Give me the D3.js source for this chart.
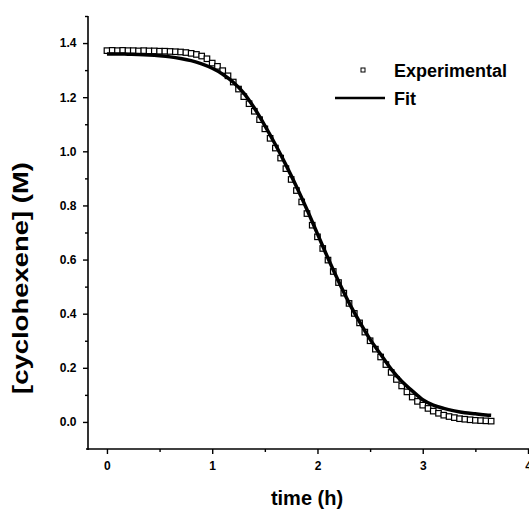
<!DOCTYPE html>
<html>
<head>
<meta charset="utf-8">
<script src="https://cdn.jsdelivr.net/npm/d3@7"></script>
<style>
  body { margin: 0; background: #fff; }
  svg text { font-family: "Liberation Sans", Arial, sans-serif; font-weight: bold; fill: #000; }
</style>
</head>
<body>
<svg></svg>
<script>
// experimental points (time in h, conc in M)
var expTime = [0.00, 0.05, 0.10, 0.15, 0.20, 0.25, 0.30, 0.35, 0.40, 0.45,
               0.50, 0.55, 0.60, 0.65, 0.70, 0.75, 0.80, 0.85, 0.90, 0.95,
               1.00, 1.05, 1.10, 1.15, 1.20, 1.25, 1.30, 1.35, 1.40, 1.45,
               1.50, 1.55, 1.60, 1.65, 1.70, 1.75, 1.80, 1.85, 1.90, 1.95,
               2.00, 2.05, 2.10, 2.15, 2.20, 2.25, 2.30, 2.35, 2.40, 2.45,
               2.50, 2.55, 2.60, 2.65, 2.70, 2.75, 2.80, 2.85, 2.90, 2.95,
               3.00, 3.05, 3.10, 3.15, 3.20, 3.25, 3.30, 3.35, 3.40, 3.45,
               3.50, 3.55, 3.60, 3.65];
var expConc = [1.372, 1.373, 1.372, 1.373, 1.372, 1.372, 1.371, 1.372, 1.371, 1.371,
               1.370, 1.370, 1.369, 1.368, 1.367, 1.365, 1.362, 1.358, 1.352, 1.342,
               1.326, 1.314, 1.298, 1.279, 1.256, 1.230, 1.202, 1.176, 1.148, 1.117,
               1.083, 1.048, 1.012, 0.975, 0.936, 0.896, 0.855, 0.813, 0.770, 0.727,
               0.684, 0.641, 0.598, 0.556, 0.515, 0.476, 0.438, 0.401, 0.366, 0.332,
               0.300, 0.269, 0.240, 0.212, 0.183, 0.157, 0.133, 0.111, 0.092, 0.076,
               0.062, 0.050, 0.040, 0.032, 0.025, 0.020, 0.016, 0.012, 0.010, 0.008,
               0.006, 0.005, 0.004, 0.003];

// fitted curve
var fitTime = [0.0, 0.1, 0.2, 0.3, 0.4, 0.5, 0.6, 0.7, 0.8, 0.9,
               1.0, 1.1, 1.2, 1.3, 1.4, 1.5, 1.6, 1.7, 1.8, 1.9,
               2.0, 2.1, 2.2, 2.3, 2.4, 2.5, 2.6, 2.7, 2.8, 2.9,
               3.0, 3.1, 3.2, 3.3, 3.4, 3.5, 3.6, 3.65];
var fitConc = [1.360, 1.360, 1.359, 1.358, 1.356, 1.353, 1.349, 1.343, 1.335, 1.323,
               1.307, 1.285, 1.255, 1.215, 1.160, 1.095, 1.025, 0.950, 0.870, 0.785,
               0.695, 0.605, 0.520, 0.440, 0.370, 0.305, 0.250, 0.195, 0.150, 0.115,
               0.082, 0.062, 0.050, 0.041, 0.034, 0.030, 0.026, 0.025];

var xTicks = [0, 1, 2, 3, 4];
var xMinor = [0.5, 1.5, 2.5, 3.5];
var yTicks = [0.0, 0.2, 0.4, 0.6, 0.8, 1.0, 1.2, 1.4];
var yMinor = [0.1, 0.3, 0.5, 0.7, 0.9, 1.1, 1.3, 1.5];

var svg = d3.select("svg").attr("width", 529).attr("height", 511);

var x = d3.scaleLinear().domain([-0.18, 4.0]).range([88, 528]);
var y = d3.scaleLinear().domain([-0.1, 1.5]).range([449, 16]);

// axes
var gx = svg.append("g").attr("transform", "translate(0,449)");
gx.call(d3.axisBottom(x).tickValues(xTicks).tickSize(5).tickSizeOuter(0)
      .tickFormat(d3.format("d")));
gx.append("g").call(d3.axisBottom(x).tickValues(xMinor).tickSize(3).tickFormat(""))
  .select(".domain").remove();
gx.select(".domain").attr("d", "M86,0H529");

var gy = svg.append("g").attr("transform", "translate(88,0)");
gy.call(d3.axisLeft(y).tickValues(yTicks).tickSize(5).tickSizeOuter(0)
      .tickFormat(d3.format(".1f")));
gy.append("g").call(d3.axisLeft(y).tickValues(yMinor).tickSize(3).tickFormat(""))
  .select(".domain").remove();
gy.select(".domain").attr("d", "M0,16V450");

svg.selectAll(".domain").attr("stroke", "#000").attr("stroke-width", 1.6);
svg.selectAll(".tick line").attr("stroke", "#000").attr("stroke-width", 1.4);
svg.selectAll(".tick text").style("font-size", "12px");
gx.selectAll(".tick text").attr("dy", "1.1em");
gy.selectAll(".tick text").attr("dx", "-0.3em");

// experimental squares
var exp = expTime.map(function (t, i) { return { t: t, c: expConc[i] }; });
var s = 5.5;
svg.append("g").selectAll("rect")
    .data(exp)
    .enter()
    .append("rect")
    .attr("x", function (d) { return x(d.t) - s / 2; })
    .attr("y", function (d) { return y(d.c) - s / 2; })
    .attr("width", s)
    .attr("height", s)
    .attr("fill", "#fff")
    .attr("stroke", "#000")
    .attr("stroke-width", 1.2);

// fit line
var fit = fitTime.map(function (t, i) { return { t: t, c: fitConc[i] }; });
svg.append("path")
    .datum(fit)
    .attr("fill", "none")
    .attr("stroke", "#000")
    .attr("stroke-width", 3.5)
    .attr("d", d3.line()
        .x(function (d) { return x(d.t); })
        .y(function (d) { return y(d.c); })
        .curve(d3.curveMonotoneX));

// axis titles
svg.append("text")
    .attr("x", 307).attr("y", 505)
    .attr("text-anchor", "middle")
    .style("font-size", "20px")
    .text("time (h)");

svg.append("text")
    .attr("transform", "translate(28,278) rotate(-90)")
    .attr("text-anchor", "middle")
    .attr("textLength", 232)
    .attr("lengthAdjust", "spacingAndGlyphs")
    .style("font-size", "22px")
    .text("[cyclohexene] (M)");

// legend
var legend = svg.append("g");
legend.append("rect")
    .attr("x", 361).attr("y", 68).attr("width", 4).attr("height", 4)
    .attr("fill", "#fff").attr("stroke", "#000").attr("stroke-width", 1);
legend.append("text").attr("x", 394).attr("y", 77)
    .style("font-size", "18px").text("Experimental");
legend.append("line")
    .attr("x1", 335).attr("x2", 385).attr("y1", 98).attr("y2", 98)
    .attr("stroke", "#000").attr("stroke-width", 2.5);
legend.append("text").attr("x", 394).attr("y", 105)
    .style("font-size", "18px").text("Fit");
</script>
</body>
</html>
